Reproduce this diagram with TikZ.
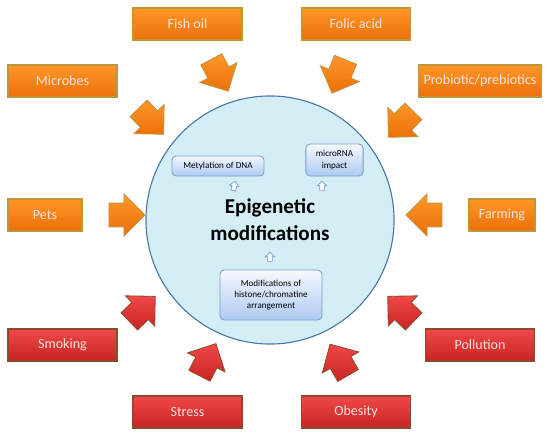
\documentclass[tikz,border=0pt]{standalone}
\usepackage{fontspec}
\setmainfont{Carlito}
\usetikzlibrary{shapes.arrows}
\definecolor{orangetop}{RGB}{255,150,40}
\definecolor{orangebot}{RGB}{235,112,10}
\definecolor{orangeedge}{RGB}{190,150,60}
\definecolor{redtop}{RGB}{240,72,72}
\definecolor{redbot}{RGB}{200,35,35}
\definecolor{rededge}{RGB}{140,75,45}
\definecolor{labeltext}{RGB}{255,228,218}
\definecolor{cellfill}{RGB}{212,238,246}
\definecolor{celledge}{RGB}{75,120,170}
\definecolor{mechtop}{RGB}{246,249,255}
\definecolor{mechbot}{RGB}{172,202,242}
\definecolor{mechedge}{RGB}{125,155,205}

\begin{document}
\begin{tikzpicture}[x=0.025cm, y=-0.025cm,
    factor/.style={draw=orangeedge, top color=orangetop, bottom color=orangebot, line width=0.8pt,
                minimum width=2.725cm, minimum height=0.8cm, text=labeltext, font=\fontsize{10}{12}\selectfont},
    risk/.style={factor, draw=rededge, top color=redtop, bottom color=redbot},
    push/.style={single arrow, draw=orangeedge, top color=orangetop, bottom color=orangebot, line width=0.6pt,
                inner sep=0.25cm, single arrow head extend=0.2cm, minimum width=1.05cm, minimum height=0.9cm},
    redpush/.style={push, draw=rededge, top color=redtop, bottom color=redbot},
    mech/.style={draw=mechedge, top color=mechtop, bottom color=mechbot, rounded corners=3pt,
                align=center, font=\fontsize{6.5}{8}\selectfont, line width=0.6pt},
    tiny/.style={single arrow, draw=mechedge, fill=mechtop, line width=0.5pt, inner sep=1.3pt,
                single arrow head extend=1.6pt, minimum width=0.24cm, minimum height=0.24cm}
]
    \useasboundingbox (0,0) rectangle (550,438);

    % Cell
    \node[circle, draw=celledge, fill=cellfill, line width=0.8pt, minimum size=6.2cm, align=center,
          font=\bfseries\fontsize{15}{19}\selectfont] (core) at (270,220) {Epigenetic\\modifications};

    % Mechanisms
    \node[mech, minimum width=2.3cm, minimum height=0.5cm] (dna) at (218,166) {Metylation of DNA};
    \node[mech, minimum width=1.43cm, minimum height=0.8cm] (mirna) at (334.5,160) {microRNA\\impact};
    \node[mech, minimum width=2.55cm, minimum height=1.25cm] (hist) at (271,295)
        {Modifications of\\histone/chromatine\\arrangement};
    \node[tiny, rotate=80] (udna) at (234,187) {};
    \node[tiny, rotate=90] (umirna) at (322,187) {};
    \node[tiny, rotate=90] (uhist) at (270,258) {};

    % Protective factors
    \node[factor] (fish) at (187.5,24) {Fish oil};
    \node[factor] (folic) at (356,24) {Folic acid};
    \node[factor] (microbes) at (62.5,81) {Microbes};
    \node[factor] (probio) at (480,81) {Probiotic/prebiotics};
    \node[factor, minimum width=1.85cm] (pets) at (45,215) {Pets};
    \node[factor, minimum width=1.65cm] (farming) at (502,215) {Farming};

    % Risk factors
    \node[risk] (smoking) at (62.5,345) {Smoking};
    \node[risk] (pollution) at (480,345) {Pollution};
    \node[risk] (stress) at (187.5,412) {Stress};
    \node[risk] (obesity) at (356,412) {Obesity};

    % Arrows
    \node[push, rotate=-62] (afish) at (217,70) {};
    \node[push, rotate=-112] (afolic) at (341,71) {};
    \node[push, rotate=-46] (amicrobes) at (147,117) {};
    \node[push, rotate=-134] (aprobio) at (405,120) {};
    \node[push, rotate=0] (apets) at (121,215) {};
    \node[push, rotate=180] (afarming) at (430,215) {};
    \node[redpush, rotate=44] (asmoking) at (138,313) {};
    \node[redpush, rotate=136] (apollution) at (405,313) {};
    \node[redpush, rotate=63] (astress) at (205,365) {};
    \node[redpush, rotate=120] (aobesity) at (342,365) {};
\end{tikzpicture}
\end{document}
